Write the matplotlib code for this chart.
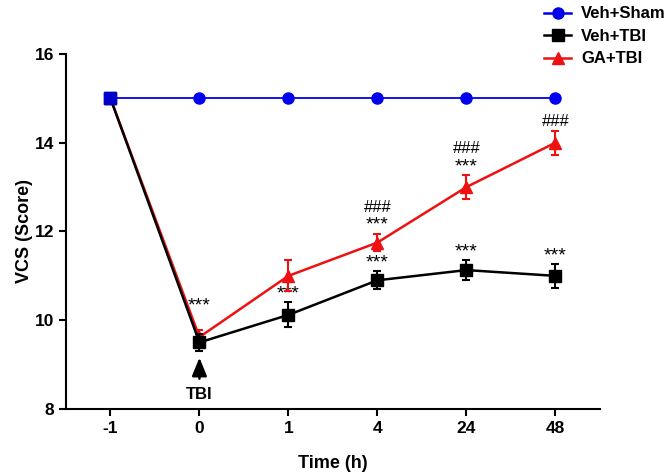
import matplotlib
matplotlib.use("Agg")
import matplotlib.pyplot as plt
from matplotlib.lines import Line2D
import numpy as np

plt.rcParams["font.family"] = ["Liberation Sans", "DejaVu Sans"]
plt.rcParams["font.weight"] = "bold"

# Data
time_labels = ["-1", "0", "1", "4", "24", "48"]
sham_mean = [15, 15, 15, 15, 15, 15]
veh_tbi_mean = [15, 9.5, 10.12, 10.9, 11.13, 11.0]
veh_tbi_err = [0, 0.2, 0.28, 0.2, 0.22, 0.27]
ga_tbi_mean = [15, 9.62, 11.0, 11.75, 13.0, 14.0]
ga_tbi_err = [0, 0.15, 0.35, 0.2, 0.27, 0.27]

# significance marks: index -> text
veh_stars = {1: "***", 2: "***", 3: "***", 4: "***", 5: "***"}
ga_stars = {3: "***", 4: "***"}
ga_hash = {3: "###", 4: "###", 5: "###"}

BLUE = "#0000ee"
RED = "#ee1111"

x = np.arange(len(time_labels))

fig = plt.figure(figsize=(6.65, 4.76), dpi=100)
ax = fig.add_axes([0.0992, 0.1408, 0.8028, 0.7458])

ax.plot(x, sham_mean, color=BLUE, lw=1.3, marker="o", ms=8, zorder=3)
ax.errorbar(x, veh_tbi_mean, yerr=veh_tbi_err, color="black", lw=1.8,
            marker="s", ms=9, capsize=3, capthick=1.5, elinewidth=1.5,
            zorder=5)
ax.errorbar(x, ga_tbi_mean, yerr=ga_tbi_err, color=RED, lw=1.8,
            marker="^", ms=8, capsize=3, capthick=1.5, elinewidth=1.5,
            zorder=4)
# first point shown as blue square
ax.plot(x[:1], veh_tbi_mean[:1], linestyle="none", marker="s", ms=9,
        color="#0000cc", zorder=6)

# annotations
star_kw = dict(textcoords="offset points", ha="center", va="center",
               fontsize=14, fontweight="normal")
for i, s in veh_stars.items():
    off = 20 if i == 1 else 6
    ax.annotate(s, (x[i], veh_tbi_mean[i] + veh_tbi_err[i]), xytext=(0, off),
                **star_kw)
for i, s in ga_stars.items():
    ax.annotate(s, (x[i], ga_tbi_mean[i] + ga_tbi_err[i]), xytext=(0, 6),
                **star_kw)
for i, s in ga_hash.items():
    off = 7 if i == 5 else 19
    ax.annotate(s, (x[i], ga_tbi_mean[i] + ga_tbi_err[i]), xytext=(0, off),
                textcoords="offset points", ha="center", va="center",
                fontsize=12, fontweight="normal")

# TBI arrow
ax.annotate("", xy=(x[1], veh_tbi_mean[1] - veh_tbi_err[1] - 0.08),
            xytext=(x[1], veh_tbi_mean[1] - 0.88),
            arrowprops=dict(arrowstyle="-|>,head_width=0.45,head_length=1.1",
                            color="black", lw=1.8))
ax.text(x[1], veh_tbi_mean[1] - 1.18, "TBI", ha="center", va="center",
        fontsize=12, fontweight="bold")

ax.set_xlim(-0.5, 5.5)
ax.set_ylim(8, 16)
ax.set_xticks(x)
ax.set_xticklabels(time_labels)
ax.set_yticks([8, 10, 12, 14, 16])
ax.tick_params(axis="both", labelsize=12.5, width=1.5, length=5)
for lab in ax.get_xticklabels() + ax.get_yticklabels():
    lab.set_fontweight("bold")
ax.spines["top"].set_visible(False)
ax.spines["right"].set_visible(False)
ax.spines["left"].set_linewidth(1.5)
ax.spines["bottom"].set_linewidth(1.5)

ax.set_xlabel("Time (h)", fontsize=13, fontweight="bold", labelpad=14)
ax.set_ylabel("VCS (Score)", fontsize=13, fontweight="bold", labelpad=1)

handles = [
    Line2D([], [], color=BLUE, lw=1.8, marker="o", ms=8),
    Line2D([], [], color="black", lw=1.8, marker="s", ms=8),
    Line2D([], [], color=RED, lw=1.8, marker="^", ms=8),
]
fig.legend(handles, ["Veh+Sham", "Veh+TBI", "GA+TBI"], loc="upper left",
           bbox_to_anchor=(0.796, 1.018), frameon=False, fontsize=12,
           handlelength=1.6, handletextpad=0.6, labelspacing=0.45)

fig.savefig("out.png", dpi=100)
